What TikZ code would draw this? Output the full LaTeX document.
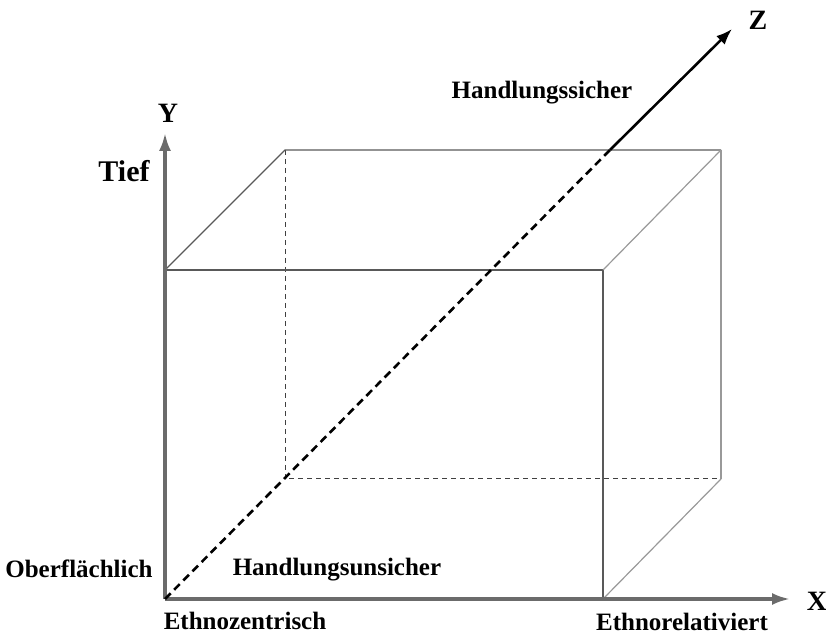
\documentclass[tikz,border=0pt]{standalone}
\usepackage{fontspec}
\setmainfont{Liberation Serif}
\usetikzlibrary{arrows.meta}

\tikzset{
    axis/.style={line width=1.6pt,draw=black!58,-{Latex[length=9pt,width=6pt]}},
    edge/.style={line width=0.6pt,draw=black!65},
    lightedge/.style={line width=0.6pt,draw=black!40},
    hidden/.style={line width=0.5pt,draw=black!75,dash pattern=on 2.5pt off 2pt},
    lbl/.style={font=\fontsize{12.5}{15}\selectfont\bfseries,inner sep=0pt}
}

\begin{document}
\begin{tikzpicture}[x=0.5pt,y=-0.5pt]
            \useasboundingbox (0,0) rectangle (826,636);
            % corners of the box
            \coordinate (o) at (165,599);
            \coordinate (ftl) at (165,270);
            \coordinate (ftr) at (603,270);
            \coordinate (fbr) at (603,599);
            \coordinate (btl) at (285,150);
            \coordinate (btr) at (721,150);
            \coordinate (bbr) at (721,479);
            \coordinate (bbl) at (285,479);
            \coordinate (zcut) at (610,150);
            \coordinate (xend) at (790,599);
            \coordinate (yend) at (165,133);
            \coordinate (zend) at (732,29);

            % hidden edges
            \draw [hidden] (btl) -- (bbl) -- (bbr);

            % box
            \draw [edge] (ftl) -- (ftr) -- (fbr);
            \draw [edge] (ftl) -- (btl) -- (btr);
            \draw [lightedge] (btr) -- (bbr);
            \draw [lightedge] (ftr) -- (btr);
            \draw [lightedge] (fbr) -- (bbr);

            % axes
            \draw [axis] (o) -- (xend);
            \draw [axis] (o) -- (yend);
            \draw [line width=1.3pt,dash pattern=on 4pt off 2.5pt] (o) -- (zcut);
            \draw [line width=1.3pt,-{Latex[length=8pt,width=6pt]}] (zcut) -- (zend);

            \node [lbl,font=\fontsize{14}{16}\selectfont\bfseries] (xlab) at (817,601) {X};
            \node [lbl,font=\fontsize{14}{16}\selectfont\bfseries] (ylab) at (168,113) {Y};
            \node [lbl,font=\fontsize{14}{16}\selectfont\bfseries] (zlab) at (758,20) {Z};

            \node [lbl,font=\fontsize{15}{18}\selectfont\bfseries] (tief) at (124,171) {Tief};
            \node [lbl] (ober) at (79,569) {Oberflächlich};
            \node [lbl] (ethnoz) at (245,621) {Ethnozentrisch};
            \node [lbl] (ethnor) at (682,622) {Ethnorelativiert};
            \node [lbl] (unsicher) at (337,570) {Handlungsunsicher};
            \node [lbl] (sicher) at (542,93) {Handlungssicher};
        \end{tikzpicture}
\end{document}
